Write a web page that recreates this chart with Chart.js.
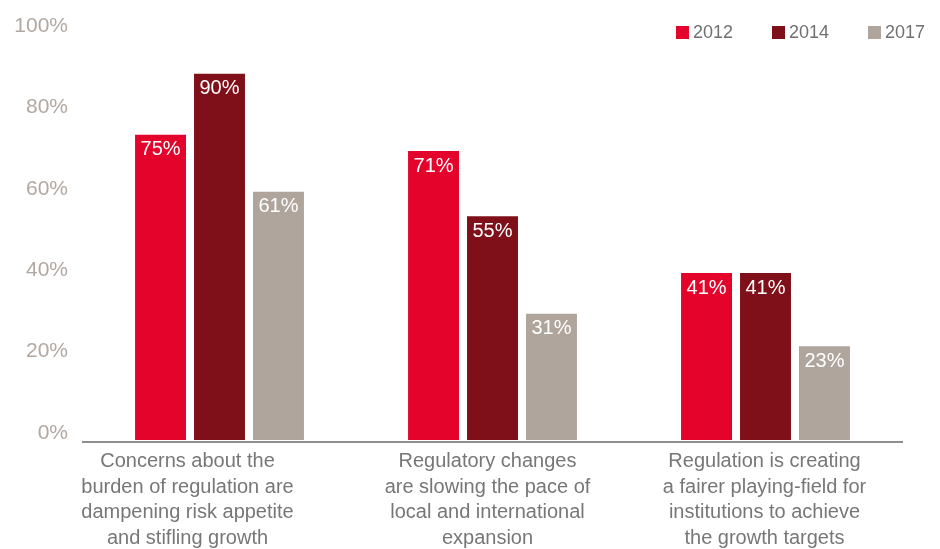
<!DOCTYPE html>
<html>
<head>
<meta charset="utf-8">
<script src="https://cdn.jsdelivr.net/npm/chart.js@4/dist/chart.umd.min.js"></script>
<style>
  html, body { margin: 0; padding: 0; background: #fff; }
  #wrap { width: 940px; height: 549px; position: relative; }
</style>
</head>
<body>
<div id="wrap"><canvas id="chart"></canvas></div>
<script>
// chart data
const categories = [
  ['Concerns about the', 'burden of regulation are', 'dampening risk appetite', 'and stifling growth'],
  ['Regulatory changes', 'are slowing the pace of', 'local and international', 'expansion'],
  ['Regulation is creating', 'a fairer playing-field for', 'institutions to achieve', 'the growth targets']
];
const years = ['2012', '2014', '2017'];
const values2012 = [75, 71, 41];
const values2014 = [90, 55, 41];
const values2017 = [61, 31, 23];
const yTicks = [0, 20, 40, 60, 80, 100];

const colors = ['#e3032b', '#7f1019', '#afa59d'];
// the original's category captions are not quite centred under their bars
const captionShift = [-32, -5, -1];

// white % labels just inside the top of each bar
const barLabels = {
  id: 'barLabels',
  afterDatasetsDraw(chart) {
    const ctx = chart.ctx;
    ctx.save();
    ctx.fillStyle = '#ffffff';
    ctx.font = '20px "Liberation Sans", Arial, sans-serif';
    ctx.textAlign = 'center';
    ctx.textBaseline = 'middle';
    chart.data.datasets.forEach((ds, i) => {
      chart.getDatasetMeta(i).data.forEach((bar, j) => {
        ctx.fillText(ds.data[j] + '%', bar.x, bar.y + 15);
      });
    });
    ctx.restore();
  }
};

// nudge the x captions sideways
const shiftCaptions = {
  id: 'shiftCaptions',
  beforeDraw(chart) {
    const items = chart.scales.x.getLabelItems();
    items.forEach((it, i) => {
      if (!it._shifted) {
        it.options.translation[0] += captionShift[i] || 0;
        it._shifted = true;
      }
    });
  }
};

// legend drawn top right, squares + year
const topLegend = {
  id: 'topLegend',
  afterDraw(chart) {
    const ctx = chart.ctx;
    ctx.save();
    ctx.font = '18px "Liberation Sans", Arial, sans-serif';
    ctx.textBaseline = 'middle';
    ctx.textAlign = 'left';
    chart.data.datasets.forEach((ds, i) => {
      const x = 676 + i * 96;
      ctx.fillStyle = ds.backgroundColor;
      ctx.fillRect(x, 26, 13, 13);
      ctx.fillStyle = '#707070';
      ctx.fillText(ds.label, x + 17, 33);
    });
    ctx.restore();
  }
};

new Chart(document.getElementById('chart'), {
  type: 'bar',
  data: {
    labels: categories,
    datasets: [
      { label: years[0], data: values2012, backgroundColor: colors[0] },
      { label: years[1], data: values2014, backgroundColor: colors[1] },
      { label: years[2], data: values2017, backgroundColor: colors[2] }
    ]
  },
  options: {
    responsive: true,
    maintainAspectRatio: false,
    animation: false,
    layout: { padding: { top: 33, right: 38, left: 0, bottom: 0 } },
    datasets: {
      bar: { categoryPercentage: 0.648, barPercentage: 0.864 }
    },
    plugins: {
      legend: { display: false },
      tooltip: { enabled: false }
    },
    scales: {
      x: {
        grid: { display: false, drawTicks: false },
        border: { display: true, color: '#8e8e8e', width: 2 },
        ticks: {
          color: '#777777',
          padding: 7,
          font: { family: '"Liberation Sans", Arial, sans-serif', size: 20, lineHeight: '25.5px' },
          maxRotation: 0,
          autoSkip: false
        },
        afterFit(s) { s.height = 107; }
      },
      y: {
        min: -0.5,
        max: 100,
        grid: { display: false, drawTicks: false },
        border: { display: false },
        afterBuildTicks(s) { s.ticks = yTicks.map(v => ({ value: v })); },
        afterFit(s) { s.width = 83; },
        ticks: {
          color: '#b2a8a2',
          padding: 15,
          labelOffset: -7,
          font: { family: '"Liberation Sans", Arial, sans-serif', size: 21 },
          callback: v => v + '%'
        }
      }
    }
  },
  plugins: [barLabels, shiftCaptions, topLegend]
});
</script>
</body>
</html>
